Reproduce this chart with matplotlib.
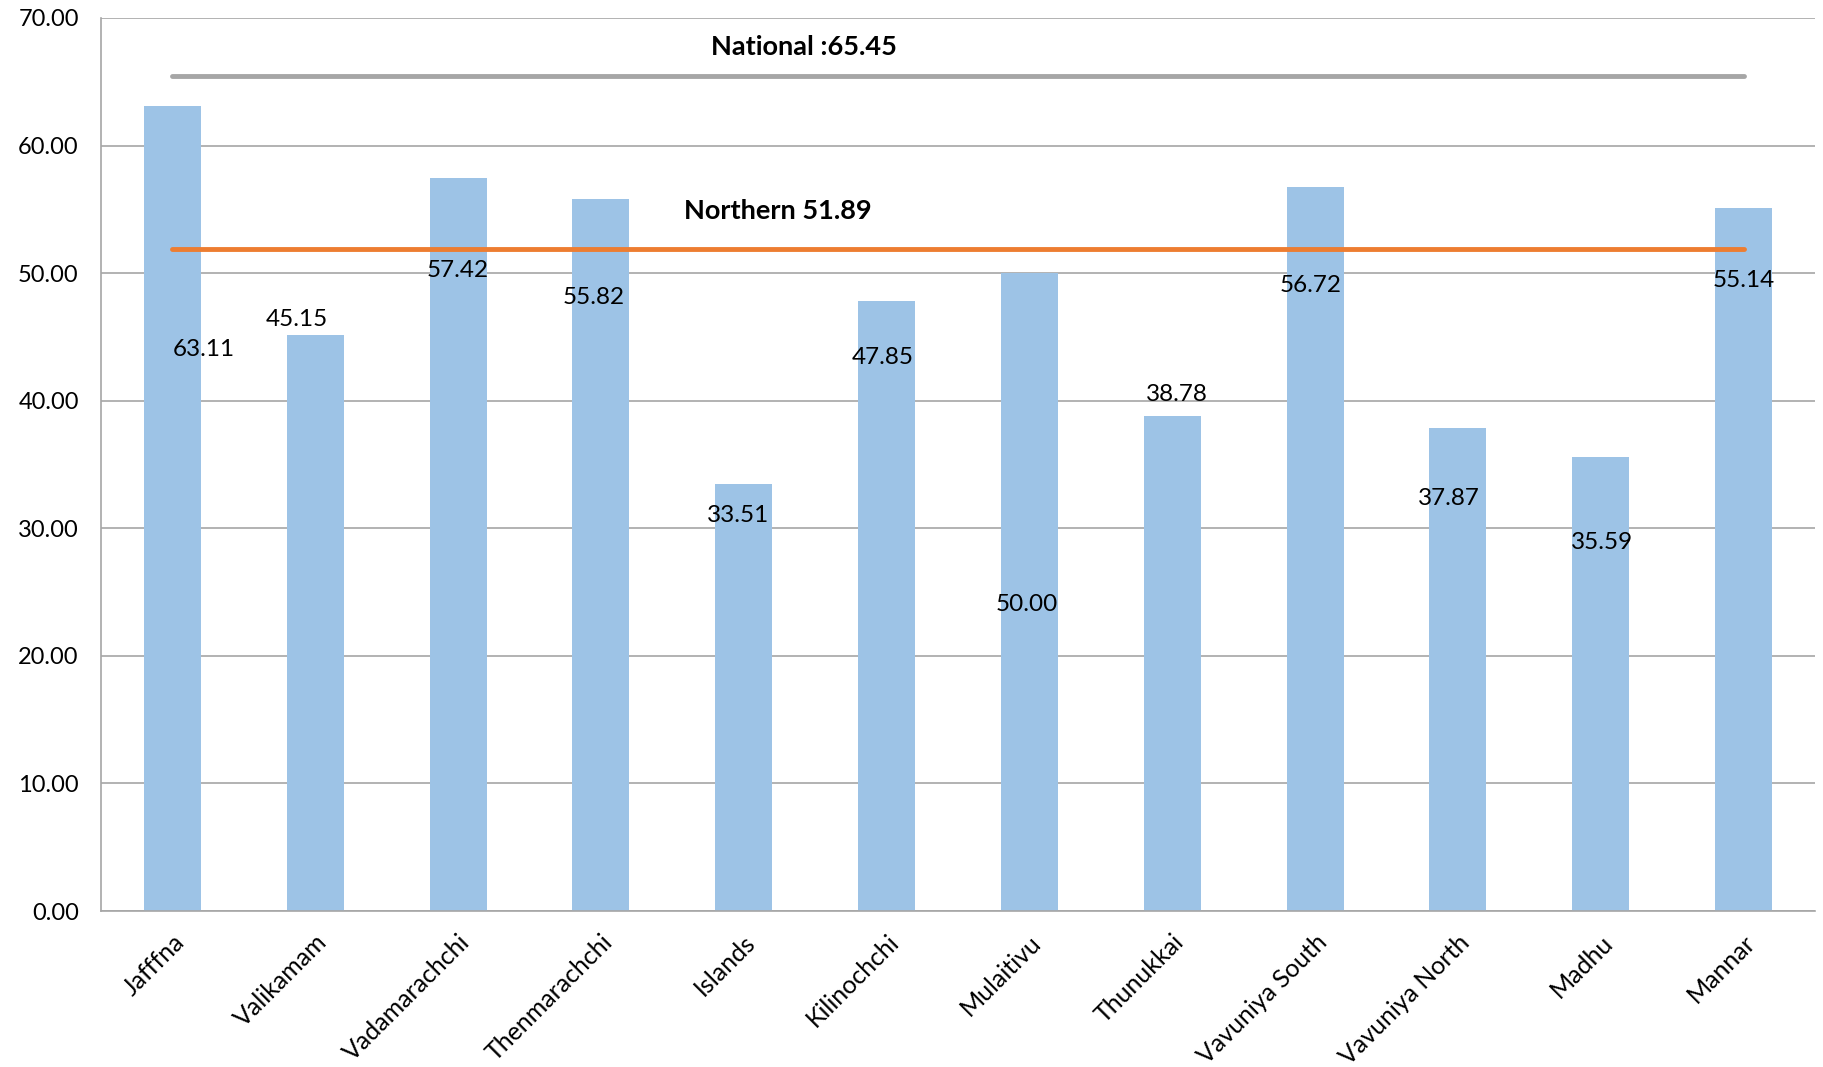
import matplotlib.pyplot as plt
import numpy as np

plt.rcParams['font.family'] = ['Lato', 'DejaVu Sans']

# данные
districts = ['Jafffna', 'Valikamam', 'Vadamarachchi', 'Thenmarachchi', 'Islands',
             'Kilinochchi', 'Mulaitivu', 'Thunukkai', 'Vavuniya South',
             'Vavuniya North', 'Madhu', 'Mannar']
values = [63.11, 45.15, 57.42, 55.82, 33.51, 47.85, 50.00, 38.78, 56.72, 37.87, 35.59, 55.14]
national = 65.45
northern = 51.89

# положение подписей (как в исходной картинке)
label_y = [44.0, 46.4, 50.2, 48.1, 31.0, 43.4, 24.0, 40.5, 49.0, 32.3, 28.9, 49.4]
label_dx = [0.22, -0.13, 0.0, -0.05, -0.04, -0.03, -0.02, 0.03, -0.03, -0.06, 0.01, 0.0]

x = np.arange(len(districts))

fig = plt.figure(figsize=(18.24, 10.67), dpi=100)
ax = fig.add_axes([101 / 1824, 1 - 911 / 1067, 1714 / 1824, 893 / 1067])

ax.bar(x, values, width=0.4, color='#9DC3E6', zorder=2)
ax.plot([x[0], x[-1]], [national, national], color='#A6A6A6', lw=3.5,
        solid_capstyle='round', zorder=3)
ax.plot([x[0], x[-1]], [northern, northern], color='#ED7D31', lw=3.5,
        solid_capstyle='round', zorder=3)

for i, v in enumerate(values):
    ax.text(x[i] + label_dx[i], label_y[i], f'{v:.2f}', ha='center', va='center',
            fontsize=17.5, zorder=4)

ax.text(4.42, 67.7, f'National :{national:.2f}', ha='center', va='center',
        fontsize=19.5, fontweight='bold')
ax.text(4.24, 54.9, f'Northern {northern:.2f}', ha='center', va='center',
        fontsize=19.5, fontweight='bold')

ax.set_xlim(-0.5, len(districts) - 0.5)
ax.set_ylim(0, 70)
ax.set_yticks(np.arange(0, 71, 10))
ax.set_yticklabels([f'{t:.2f}' for t in np.arange(0, 71, 10)], fontsize=17)
ax.set_xticks(x)
ax.set_xticklabels(districts, rotation=45, ha='right', rotation_mode='anchor', fontsize=18)
ax.tick_params(axis='y', length=0, pad=16)
ax.tick_params(axis='x', length=0, pad=14)

ax.yaxis.grid(True, color='#A6A6A6', lw=1.2, zorder=0)
ax.set_axisbelow(True)
for s in ['top', 'right']:
    ax.spines[s].set_visible(False)
for s in ['left', 'bottom']:
    ax.spines[s].set_color('#A6A6A6')
    ax.spines[s].set_linewidth(1.2)

plt.savefig('out.png')
